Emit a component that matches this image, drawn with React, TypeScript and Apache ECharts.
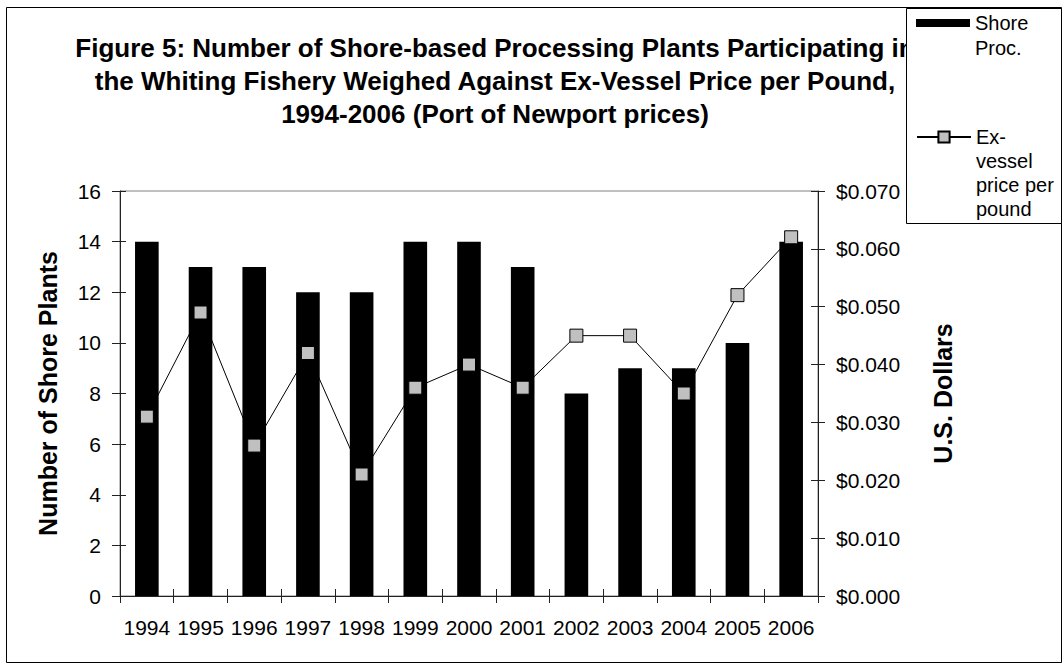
import { useEffect, useRef } from 'react';
import * as echarts from 'echarts';

// Whiting fishery: shore-based plants vs. ex-vessel price (Port of Newport)
const years = ['1994', '1995', '1996', '1997', '1998', '1999', '2000', '2001', '2002', '2003', '2004', '2005', '2006'];
const shorePlants = [14, 13, 13, 12, 12, 14, 14, 13, 8, 9, 9, 10, 14];
const exVesselPrice = [0.031, 0.049, 0.026, 0.042, 0.021, 0.036, 0.040, 0.036, 0.045, 0.045, 0.035, 0.052, 0.062];

const titleLines = [
  'Figure 5: Number of Shore-based Processing Plants Participating in',
  'the Whiting Fishery Weighed Against Ex-Vessel Price per Pound,',
  '1994-2006 (Port of Newport prices)',
];
const plantsAxisName = 'Number of Shore Plants';
const priceAxisName = 'U.S. Dollars';
const barSeriesName = 'Shore Proc.';
const lineSeriesName = 'Ex-vessel price per pound';
const barLegendLines = ['Shore', 'Proc.'];
const lineLegendLines = ['Ex-', 'vessel', 'price per', 'pound'];

const FONT = '"Liberation Sans", Arial, Helvetica, sans-serif';
const LEGEND_LINE_H = 25;

// Legend text is centred on its icon; blank lines above push the first
// real line level with the icon.
const legendText = (lines: string[]) =>
  new Array(lines.length - 1).fill('').concat(lines).join('\n');

export default function App() {
  const ref = useRef<HTMLDivElement>(null);

  useEffect(() => {
    if (!ref.current) return;
    const chart = echarts.init(ref.current, null, { renderer: 'svg' });

    const tickLabel = { color: '#000', fontSize: 21, fontFamily: FONT };
    const axisTitle = { color: '#000', fontSize: 25, fontWeight: 'bold' as const, fontFamily: FONT };
    const axisLine = { show: true, lineStyle: { color: '#222', width: 1 } };

    chart.setOption({
      animation: false,
      backgroundColor: '#fff',
      textStyle: { fontFamily: FONT },
      title: {
        text: titleLines.join('\n'),
        left: 490,
        top: 26,
        textAlign: 'center',
        z: 2,
        textStyle: { color: '#000', fontSize: 26, fontWeight: 'bold', fontFamily: FONT, lineHeight: 33 },
      },
      graphic: [
        {
          type: 'rect',
          z: 1,
          shape: { x: 6.5, y: 7.5, width: 1055, height: 655 },
          style: { fill: 'none', stroke: '#000', lineWidth: 1 },
        },
        {
          type: 'rect',
          z: 3,
          shape: { x: 906.5, y: 8.5, width: 155, height: 215 },
          style: { fill: '#fff', stroke: '#000', lineWidth: 1 },
        },
      ],
      legend: [
        {
          data: [barSeriesName],
          orient: 'vertical',
          left: 916,
          top: 23 - (barLegendLines.length - 0.5) * LEGEND_LINE_H,
          padding: 0,
          z: 5,
          icon: 'rect',
          itemWidth: 54,
          itemHeight: 8,
          selectedMode: false,
          formatter: () => legendText(barLegendLines),
          textStyle: { color: '#000', fontSize: 20, fontFamily: FONT, lineHeight: LEGEND_LINE_H },
        },
        {
          data: [lineSeriesName],
          orient: 'vertical',
          left: 916,
          top: 137 - (lineLegendLines.length - 0.5) * 24,
          padding: 0,
          z: 5,
          itemWidth: 54,
          itemHeight: 14,
          selectedMode: false,
          formatter: () => legendText(lineLegendLines),
          textStyle: { color: '#000', fontSize: 20, fontFamily: FONT, lineHeight: 24 },
        },
      ],
      grid: {
        left: 120,
        right: 245,
        top: 191,
        bottom: 68,
        containLabel: false,
        outerBoundsMode: 'none',
        show: true,
        borderColor: '#808080',
        borderWidth: 1,
        backgroundColor: 'transparent',
      },
      xAxis: [
        {
          type: 'category',
          data: years,
          position: 'bottom',
          boundaryGap: true,
          axisLine,
          axisTick: { show: true, inside: false, length: 7, lineStyle: { color: '#222' } },
          axisLabel: { ...tickLabel, margin: 21, interval: 0 },
          splitLine: { show: false },
        },
        {
          // inner half of the crossing tick marks
          type: 'category',
          data: years,
          position: 'bottom',
          boundaryGap: true,
          axisLine: { show: false },
          axisTick: { show: true, inside: true, length: 7, lineStyle: { color: '#222' } },
          axisLabel: { show: false },
          splitLine: { show: false },
        },
      ],
      yAxis: [
        {
          type: 'value',
          position: 'left',
          min: 0,
          max: 16,
          interval: 2,
          name: plantsAxisName,
          nameLocation: 'middle',
          nameRotate: 90,
          nameGap: 60,
          nameTextStyle: axisTitle,
          axisLine,
          axisTick: { show: true, inside: false, length: 8, lineStyle: { color: '#222' } },
          axisLabel: { ...tickLabel, margin: 19 },
          splitLine: { show: false },
        },
        {
          type: 'value',
          position: 'right',
          min: 0,
          max: 0.07,
          interval: 0.01,
          name: priceAxisName,
          nameLocation: 'middle',
          nameRotate: 90,
          nameGap: 112,
          nameTextStyle: axisTitle,
          axisLine,
          axisTick: { show: true, inside: false, length: 7, lineStyle: { color: '#222' } },
          axisLabel: { ...tickLabel, margin: 18, formatter: (v: number) => '$' + v.toFixed(3) },
          splitLine: { show: false },
        },
        {
          type: 'value',
          position: 'left',
          min: 0,
          max: 16,
          interval: 2,
          axisLine: { show: false },
          axisTick: { show: true, inside: true, length: 6, lineStyle: { color: '#222' } },
          axisLabel: { show: false },
          splitLine: { show: false },
        },
        {
          type: 'value',
          position: 'right',
          min: 0,
          max: 0.07,
          interval: 0.01,
          axisLine: { show: false },
          axisTick: { show: true, inside: true, length: 7, lineStyle: { color: '#222' } },
          axisLabel: { show: false },
          splitLine: { show: false },
        },
      ],
      series: [
        {
          name: barSeriesName,
          type: 'bar',
          xAxisIndex: 0,
          yAxisIndex: 0,
          data: shorePlants,
          barWidth: '44%',
          itemStyle: { color: '#000' },
          z: 2,
        },
        {
          name: lineSeriesName,
          type: 'line',
          xAxisIndex: 0,
          yAxisIndex: 1,
          data: exVesselPrice,
          symbol: 'rect',
          symbolSize: 13,
          showAllSymbol: true,
          lineStyle: { color: '#000', width: 1 },
          itemStyle: { color: '#c0c0c0', borderColor: '#000', borderWidth: 1 },
          z: 3,
        },
      ],
    });

    return () => chart.dispose();
  }, []);

  return (
    <div
      ref={ref}
      style={{ position: 'fixed', left: 0, top: 0, width: 1063, height: 664, background: '#fff' }}
    />
  );
}
